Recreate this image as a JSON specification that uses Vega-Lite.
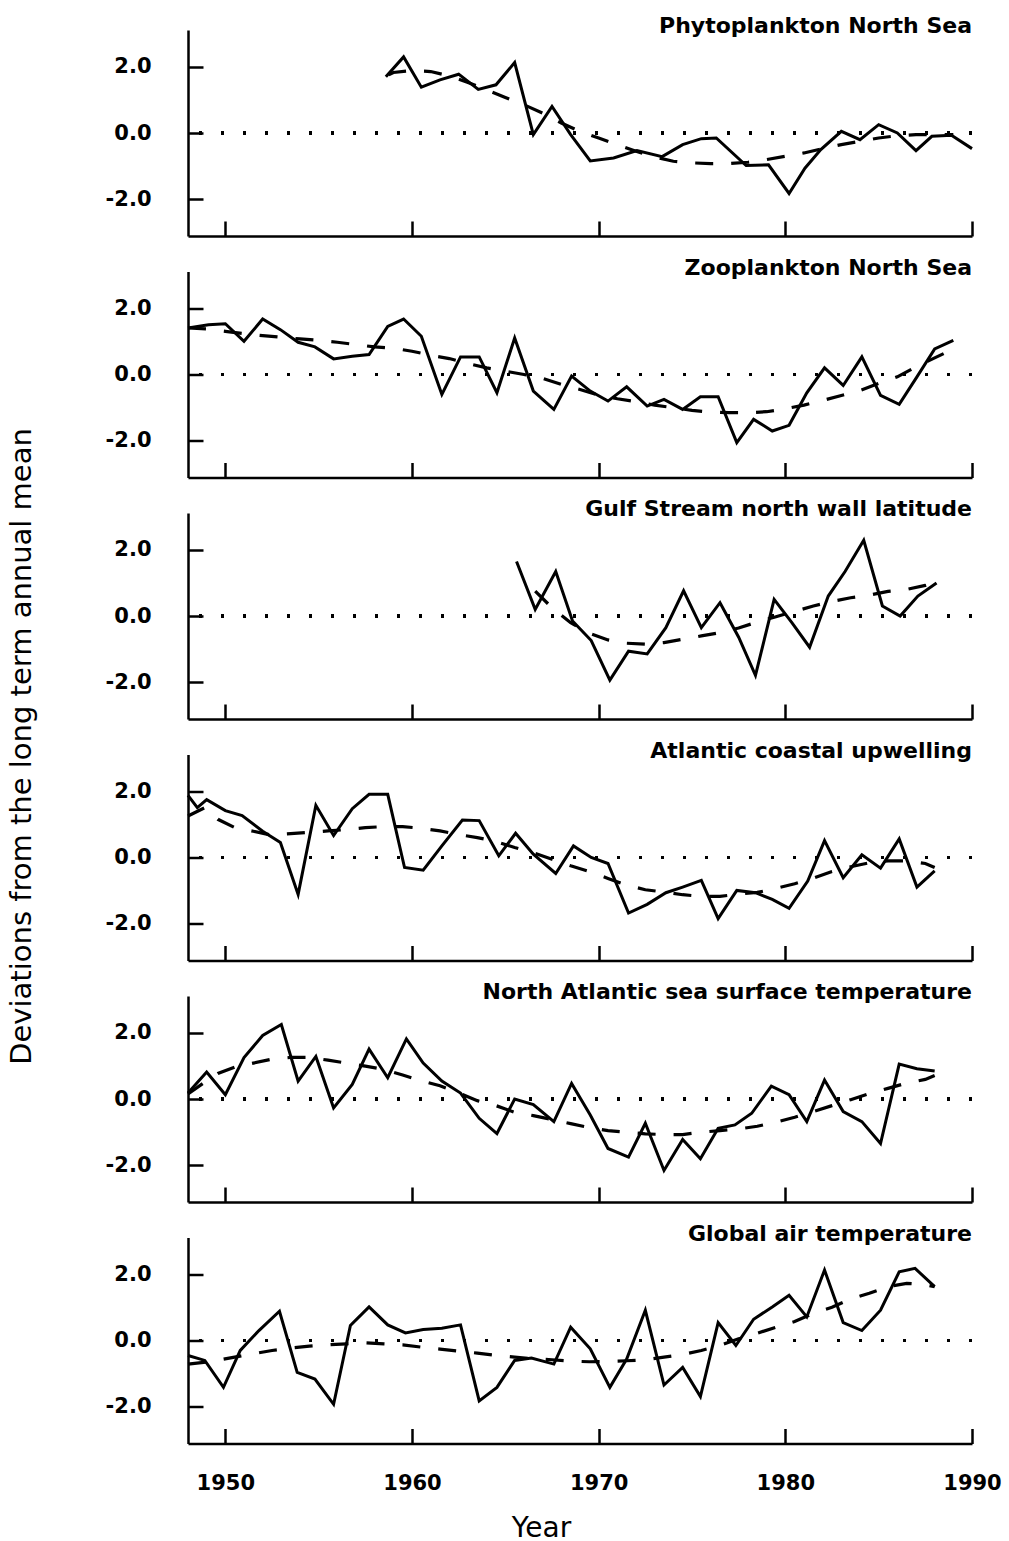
{
  "$schema": "https://vega.github.io/schema/vega-lite/v6.json",
  "background": "white",
  "padding": {"left": 7, "top": 15, "right": 5, "bottom": 5},
  "config": {
    "view": {"stroke": null},
    "font": "DejaVu Sans",
    "axis": {"domainColor": "black", "domainWidth": 2.5, "tickColor": "black", "tickWidth": 2.5, "tickSize": -15, "grid": false,
      "labelColor": "black", "labelFont": "DejaVu Sans", "labelFontWeight": "bold", "labelFontSize": 21,
      "titleColor": "black", "titleFont": "DejaVu Sans", "titleFontWeight": "normal", "titleFontSize": 28, "labelOverlap": false, "labelFlush": false},
    "axisY": {"labelPadding": 52},
    "axisX": {"labelPadding": 44},
    "title": {"anchor": "end", "frame": "group", "baseline": "alphabetic", "offset": -8, "fontSize": 22, "font": "DejaVu Sans", "fontWeight": "bold", "color": "black"}
  },
  "spacing": 35.5,
  "bounds": "flush",
  "datasets": {
    "d": [
      {"p":"A","k":"o","x":1958.6,"y":1.69},{"p":"A","k":"o","x":1959.55,"y":2.29},{"p":"A","k":"o","x":1960.5,"y":1.38},{"p":"A","k":"o","x":1961.5,"y":1.6},{"p":"A","k":"o","x":1962.5,"y":1.77},{"p":"A","k":"o","x":1963.55,"y":1.31},{"p":"A","k":"o","x":1964.5,"y":1.45},{"p":"A","k":"o","x":1965.5,"y":2.12},{"p":"A","k":"o","x":1966.5,"y":-0.05},{"p":"A","k":"o","x":1967.5,"y":0.8},{"p":"A","k":"o","x":1968.5,"y":-0.05},{"p":"A","k":"o","x":1969.55,"y":-0.84},{"p":"A","k":"o","x":1970.8,"y":-0.75},{"p":"A","k":"o","x":1972.05,"y":-0.53},{"p":"A","k":"o","x":1973.4,"y":-0.71},{"p":"A","k":"o","x":1974.5,"y":-0.35},{"p":"A","k":"o","x":1975.5,"y":-0.17},{"p":"A","k":"o","x":1976.3,"y":-0.15},{"p":"A","k":"o","x":1977.9,"y":-0.98},{"p":"A","k":"o","x":1979.1,"y":-0.96},{"p":"A","k":"o","x":1980.2,"y":-1.82},{"p":"A","k":"o","x":1981.05,"y":-1.06},{"p":"A","k":"o","x":1981.9,"y":-0.5},{"p":"A","k":"o","x":1983.0,"y":0.05},{"p":"A","k":"o","x":1984.0,"y":-0.2},{"p":"A","k":"o","x":1985.0,"y":0.25},{"p":"A","k":"o","x":1986.0,"y":0.0},{"p":"A","k":"o","x":1987.0,"y":-0.53},{"p":"A","k":"o","x":1987.85,"y":-0.1},{"p":"A","k":"o","x":1988.9,"y":-0.07},{"p":"A","k":"o","x":1990.0,"y":-0.47},
      {"p":"A","k":"t","x":1958.75,"y":1.75},{"p":"A","k":"t","x":1959,"y":1.82},{"p":"A","k":"t","x":1960,"y":1.88},{"p":"A","k":"t","x":1961,"y":1.85},{"p":"A","k":"t","x":1962,"y":1.72},{"p":"A","k":"t","x":1963,"y":1.52},{"p":"A","k":"t","x":1964,"y":1.3},{"p":"A","k":"t","x":1965,"y":1.07},{"p":"A","k":"t","x":1966,"y":0.85},{"p":"A","k":"t","x":1967,"y":0.6},{"p":"A","k":"t","x":1968,"y":0.3},{"p":"A","k":"t","x":1969,"y":0.05},{"p":"A","k":"t","x":1970,"y":-0.15},{"p":"A","k":"t","x":1971,"y":-0.35},{"p":"A","k":"t","x":1972,"y":-0.55},{"p":"A","k":"t","x":1973,"y":-0.72},{"p":"A","k":"t","x":1974,"y":-0.85},{"p":"A","k":"t","x":1975,"y":-0.9},{"p":"A","k":"t","x":1976,"y":-0.92},{"p":"A","k":"t","x":1977,"y":-0.92},{"p":"A","k":"t","x":1978,"y":-0.88},{"p":"A","k":"t","x":1979,"y":-0.8},{"p":"A","k":"t","x":1980,"y":-0.7},{"p":"A","k":"t","x":1981,"y":-0.6},{"p":"A","k":"t","x":1982,"y":-0.47},{"p":"A","k":"t","x":1983,"y":-0.35},{"p":"A","k":"t","x":1984,"y":-0.25},{"p":"A","k":"t","x":1985,"y":-0.15},{"p":"A","k":"t","x":1986,"y":-0.08},{"p":"A","k":"t","x":1987,"y":-0.05},{"p":"A","k":"t","x":1988,"y":-0.05},{"p":"A","k":"t","x":1989,"y":-0.05},
      {"p":"B","k":"o","x":1948.0,"y":1.4},{"p":"B","k":"o","x":1949.1,"y":1.5},{"p":"B","k":"o","x":1950.0,"y":1.53},{"p":"B","k":"o","x":1951.0,"y":1.0},{"p":"B","k":"o","x":1952.0,"y":1.67},{"p":"B","k":"o","x":1952.95,"y":1.35},{"p":"B","k":"o","x":1953.9,"y":0.97},{"p":"B","k":"o","x":1954.8,"y":0.83},{"p":"B","k":"o","x":1955.8,"y":0.47},{"p":"B","k":"o","x":1956.8,"y":0.55},{"p":"B","k":"o","x":1957.7,"y":0.6},{"p":"B","k":"o","x":1958.7,"y":1.45},{"p":"B","k":"o","x":1959.55,"y":1.67},{"p":"B","k":"o","x":1960.5,"y":1.15},{"p":"B","k":"o","x":1961.6,"y":-0.6},{"p":"B","k":"o","x":1962.6,"y":0.53},{"p":"B","k":"o","x":1963.6,"y":0.53},{"p":"B","k":"o","x":1964.55,"y":-0.55},{"p":"B","k":"o","x":1965.5,"y":1.1},{"p":"B","k":"o","x":1966.5,"y":-0.5},{"p":"B","k":"o","x":1967.6,"y":-1.05},{"p":"B","k":"o","x":1968.55,"y":-0.05},{"p":"B","k":"o","x":1969.55,"y":-0.5},{"p":"B","k":"o","x":1970.5,"y":-0.8},{"p":"B","k":"o","x":1971.5,"y":-0.37},{"p":"B","k":"o","x":1972.6,"y":-0.95},{"p":"B","k":"o","x":1973.5,"y":-0.75},{"p":"B","k":"o","x":1974.5,"y":-1.05},{"p":"B","k":"o","x":1975.45,"y":-0.67},{"p":"B","k":"o","x":1976.4,"y":-0.67},{"p":"B","k":"o","x":1977.4,"y":-2.05},{"p":"B","k":"o","x":1978.3,"y":-1.35},{"p":"B","k":"o","x":1979.3,"y":-1.7},{"p":"B","k":"o","x":1980.2,"y":-1.53},{"p":"B","k":"o","x":1981.15,"y":-0.55},{"p":"B","k":"o","x":1982.1,"y":0.2},{"p":"B","k":"o","x":1983.1,"y":-0.33},{"p":"B","k":"o","x":1984.1,"y":0.53},{"p":"B","k":"o","x":1985.1,"y":-0.63},{"p":"B","k":"o","x":1986.1,"y":-0.9},{"p":"B","k":"o","x":1987.05,"y":-0.07},{"p":"B","k":"o","x":1988.0,"y":0.77},{"p":"B","k":"o","x":1989.0,"y":1.03},
      {"p":"B","k":"t","x":1948,"y":1.4},{"p":"B","k":"t","x":1949,"y":1.37},{"p":"B","k":"t","x":1950,"y":1.3},{"p":"B","k":"t","x":1951,"y":1.23},{"p":"B","k":"t","x":1952,"y":1.17},{"p":"B","k":"t","x":1953,"y":1.12},{"p":"B","k":"t","x":1954,"y":1.07},{"p":"B","k":"t","x":1955,"y":1.03},{"p":"B","k":"t","x":1956,"y":0.97},{"p":"B","k":"t","x":1957,"y":0.9},{"p":"B","k":"t","x":1958,"y":0.83},{"p":"B","k":"t","x":1959,"y":0.79},{"p":"B","k":"t","x":1960,"y":0.7},{"p":"B","k":"t","x":1961,"y":0.58},{"p":"B","k":"t","x":1962,"y":0.48},{"p":"B","k":"t","x":1963,"y":0.33},{"p":"B","k":"t","x":1964,"y":0.2},{"p":"B","k":"t","x":1965,"y":0.1},{"p":"B","k":"t","x":1966,"y":0.0},{"p":"B","k":"t","x":1967,"y":-0.12},{"p":"B","k":"t","x":1968,"y":-0.3},{"p":"B","k":"t","x":1969,"y":-0.45},{"p":"B","k":"t","x":1970,"y":-0.62},{"p":"B","k":"t","x":1971,"y":-0.73},{"p":"B","k":"t","x":1972,"y":-0.82},{"p":"B","k":"t","x":1973,"y":-0.92},{"p":"B","k":"t","x":1974,"y":-1.0},{"p":"B","k":"t","x":1975,"y":-1.08},{"p":"B","k":"t","x":1976,"y":-1.13},{"p":"B","k":"t","x":1977,"y":-1.15},{"p":"B","k":"t","x":1978,"y":-1.15},{"p":"B","k":"t","x":1979,"y":-1.12},{"p":"B","k":"t","x":1980,"y":-1.03},{"p":"B","k":"t","x":1981,"y":-0.92},{"p":"B","k":"t","x":1982,"y":-0.78},{"p":"B","k":"t","x":1983,"y":-0.63},{"p":"B","k":"t","x":1984,"y":-0.48},{"p":"B","k":"t","x":1985,"y":-0.27},{"p":"B","k":"t","x":1986,"y":-0.07},{"p":"B","k":"t","x":1987,"y":0.23},{"p":"B","k":"t","x":1988,"y":0.5},{"p":"B","k":"t","x":1989,"y":0.77},
      {"p":"C","k":"o","x":1965.6,"y":1.64},{"p":"C","k":"o","x":1966.6,"y":0.2},{"p":"C","k":"o","x":1967.7,"y":1.34},{"p":"C","k":"o","x":1968.6,"y":-0.15},{"p":"C","k":"o","x":1969.6,"y":-0.74},{"p":"C","k":"o","x":1970.6,"y":-1.93},{"p":"C","k":"o","x":1971.6,"y":-1.06},{"p":"C","k":"o","x":1972.6,"y":-1.14},{"p":"C","k":"o","x":1973.6,"y":-0.35},{"p":"C","k":"o","x":1974.55,"y":0.76},{"p":"C","k":"o","x":1975.5,"y":-0.35},{"p":"C","k":"o","x":1976.5,"y":0.4},{"p":"C","k":"o","x":1977.5,"y":-0.64},{"p":"C","k":"o","x":1978.4,"y":-1.79},{"p":"C","k":"o","x":1979.4,"y":0.5},{"p":"C","k":"o","x":1980.35,"y":-0.2},{"p":"C","k":"o","x":1981.3,"y":-0.94},{"p":"C","k":"o","x":1982.3,"y":0.6},{"p":"C","k":"o","x":1983.2,"y":1.34},{"p":"C","k":"o","x":1984.2,"y":2.28},{"p":"C","k":"o","x":1985.2,"y":0.3},{"p":"C","k":"o","x":1986.15,"y":0.0},{"p":"C","k":"o","x":1987.1,"y":0.6},{"p":"C","k":"o","x":1988.1,"y":0.99},
      {"p":"C","k":"t","x":1966.6,"y":0.75},{"p":"C","k":"t","x":1967.5,"y":0.25},{"p":"C","k":"t","x":1968.5,"y":-0.2},{"p":"C","k":"t","x":1969.5,"y":-0.52},{"p":"C","k":"t","x":1970.5,"y":-0.72},{"p":"C","k":"t","x":1971.5,"y":-0.82},{"p":"C","k":"t","x":1972.5,"y":-0.85},{"p":"C","k":"t","x":1973.5,"y":-0.8},{"p":"C","k":"t","x":1974.5,"y":-0.7},{"p":"C","k":"t","x":1975.5,"y":-0.6},{"p":"C","k":"t","x":1976.5,"y":-0.5},{"p":"C","k":"t","x":1977.5,"y":-0.36},{"p":"C","k":"t","x":1978.5,"y":-0.18},{"p":"C","k":"t","x":1979.5,"y":-0.02},{"p":"C","k":"t","x":1980.5,"y":0.14},{"p":"C","k":"t","x":1981.5,"y":0.3},{"p":"C","k":"t","x":1982.5,"y":0.44},{"p":"C","k":"t","x":1983.5,"y":0.55},{"p":"C","k":"t","x":1984.5,"y":0.63},{"p":"C","k":"t","x":1985.5,"y":0.74},{"p":"C","k":"t","x":1986.5,"y":0.8},{"p":"C","k":"t","x":1987.5,"y":0.92},{"p":"C","k":"t","x":1988.2,"y":1.04},
      {"p":"D","k":"o","x":1948.0,"y":1.87},{"p":"D","k":"o","x":1948.5,"y":1.5},{"p":"D","k":"o","x":1949.0,"y":1.74},{"p":"D","k":"o","x":1950.0,"y":1.41},{"p":"D","k":"o","x":1950.9,"y":1.26},{"p":"D","k":"o","x":1952.0,"y":0.79},{"p":"D","k":"o","x":1952.95,"y":0.45},{"p":"D","k":"o","x":1953.9,"y":-1.11},{"p":"D","k":"o","x":1954.85,"y":1.57},{"p":"D","k":"o","x":1955.8,"y":0.66},{"p":"D","k":"o","x":1956.8,"y":1.47},{"p":"D","k":"o","x":1957.7,"y":1.9},{"p":"D","k":"o","x":1958.7,"y":1.9},{"p":"D","k":"o","x":1959.6,"y":-0.3},{"p":"D","k":"o","x":1960.6,"y":-0.38},{"p":"D","k":"o","x":1961.6,"y":0.35},{"p":"D","k":"o","x":1962.7,"y":1.13},{"p":"D","k":"o","x":1963.6,"y":1.11},{"p":"D","k":"o","x":1964.65,"y":0.05},{"p":"D","k":"o","x":1965.55,"y":0.73},{"p":"D","k":"o","x":1966.5,"y":0.1},{"p":"D","k":"o","x":1967.7,"y":-0.48},{"p":"D","k":"o","x":1968.65,"y":0.35},{"p":"D","k":"o","x":1969.6,"y":0.0},{"p":"D","k":"o","x":1970.5,"y":-0.18},{"p":"D","k":"o","x":1971.6,"y":-1.67},{"p":"D","k":"o","x":1972.6,"y":-1.41},{"p":"D","k":"o","x":1973.6,"y":-1.06},{"p":"D","k":"o","x":1974.5,"y":-0.89},{"p":"D","k":"o","x":1975.5,"y":-0.69},{"p":"D","k":"o","x":1976.4,"y":-1.84},{"p":"D","k":"o","x":1977.4,"y":-0.99},{"p":"D","k":"o","x":1978.4,"y":-1.06},{"p":"D","k":"o","x":1979.3,"y":-1.26},{"p":"D","k":"o","x":1980.2,"y":-1.53},{"p":"D","k":"o","x":1981.2,"y":-0.71},{"p":"D","k":"o","x":1982.1,"y":0.51},{"p":"D","k":"o","x":1983.1,"y":-0.61},{"p":"D","k":"o","x":1984.1,"y":0.08},{"p":"D","k":"o","x":1985.1,"y":-0.32},{"p":"D","k":"o","x":1986.1,"y":0.56},{"p":"D","k":"o","x":1987.05,"y":-0.89},{"p":"D","k":"o","x":1988.0,"y":-0.4},
      {"p":"D","k":"t","x":1948,"y":1.25},{"p":"D","k":"t","x":1948.9,"y":1.5},{"p":"D","k":"t","x":1949.6,"y":1.15},{"p":"D","k":"t","x":1950.5,"y":0.9},{"p":"D","k":"t","x":1951.5,"y":0.79},{"p":"D","k":"t","x":1952.4,"y":0.68},{"p":"D","k":"t","x":1953.5,"y":0.72},{"p":"D","k":"t","x":1954.5,"y":0.76},{"p":"D","k":"t","x":1955.5,"y":0.8},{"p":"D","k":"t","x":1956.5,"y":0.84},{"p":"D","k":"t","x":1957.5,"y":0.9},{"p":"D","k":"t","x":1958.5,"y":0.93},{"p":"D","k":"t","x":1959.5,"y":0.93},{"p":"D","k":"t","x":1960.5,"y":0.88},{"p":"D","k":"t","x":1961.5,"y":0.8},{"p":"D","k":"t","x":1962.5,"y":0.69},{"p":"D","k":"t","x":1963.5,"y":0.6},{"p":"D","k":"t","x":1964.5,"y":0.48},{"p":"D","k":"t","x":1965.5,"y":0.3},{"p":"D","k":"t","x":1966.5,"y":0.14},{"p":"D","k":"t","x":1967.5,"y":-0.05},{"p":"D","k":"t","x":1968.5,"y":-0.25},{"p":"D","k":"t","x":1969.5,"y":-0.42},{"p":"D","k":"t","x":1970.5,"y":-0.63},{"p":"D","k":"t","x":1971.5,"y":-0.83},{"p":"D","k":"t","x":1972.5,"y":-0.97},{"p":"D","k":"t","x":1973.5,"y":-1.04},{"p":"D","k":"t","x":1974.5,"y":-1.12},{"p":"D","k":"t","x":1975.5,"y":-1.17},{"p":"D","k":"t","x":1976.5,"y":-1.17},{"p":"D","k":"t","x":1977.5,"y":-1.1},{"p":"D","k":"t","x":1978.5,"y":-1.05},{"p":"D","k":"t","x":1979.5,"y":-0.93},{"p":"D","k":"t","x":1980.5,"y":-0.79},{"p":"D","k":"t","x":1981.5,"y":-0.62},{"p":"D","k":"t","x":1982.5,"y":-0.42},{"p":"D","k":"t","x":1983.5,"y":-0.28},{"p":"D","k":"t","x":1984.5,"y":-0.16},{"p":"D","k":"t","x":1985.5,"y":-0.1},{"p":"D","k":"t","x":1986.5,"y":-0.1},{"p":"D","k":"t","x":1987.5,"y":-0.18},{"p":"D","k":"t","x":1988.0,"y":-0.3},
      {"p":"E","k":"o","x":1948.0,"y":0.18},{"p":"E","k":"o","x":1949.0,"y":0.81},{"p":"E","k":"o","x":1950.0,"y":0.13},{"p":"E","k":"o","x":1951.0,"y":1.25},{"p":"E","k":"o","x":1952.0,"y":1.91},{"p":"E","k":"o","x":1953.0,"y":2.24},{"p":"E","k":"o","x":1953.9,"y":0.54},{"p":"E","k":"o","x":1954.85,"y":1.28},{"p":"E","k":"o","x":1955.8,"y":-0.27},{"p":"E","k":"o","x":1956.8,"y":0.44},{"p":"E","k":"o","x":1957.7,"y":1.5},{"p":"E","k":"o","x":1958.7,"y":0.64},{"p":"E","k":"o","x":1959.7,"y":1.81},{"p":"E","k":"o","x":1960.6,"y":1.08},{"p":"E","k":"o","x":1961.6,"y":0.54},{"p":"E","k":"o","x":1962.6,"y":0.18},{"p":"E","k":"o","x":1963.6,"y":-0.58},{"p":"E","k":"o","x":1964.55,"y":-1.04},{"p":"E","k":"o","x":1965.5,"y":0.0},{"p":"E","k":"o","x":1966.5,"y":-0.17},{"p":"E","k":"o","x":1967.6,"y":-0.68},{"p":"E","k":"o","x":1968.55,"y":0.47},{"p":"E","k":"o","x":1969.55,"y":-0.48},{"p":"E","k":"o","x":1970.5,"y":-1.49},{"p":"E","k":"o","x":1971.6,"y":-1.75},{"p":"E","k":"o","x":1972.5,"y":-0.73},{"p":"E","k":"o","x":1973.5,"y":-2.15},{"p":"E","k":"o","x":1974.5,"y":-1.22},{"p":"E","k":"o","x":1975.45,"y":-1.8},{"p":"E","k":"o","x":1976.4,"y":-0.88},{"p":"E","k":"o","x":1977.3,"y":-0.78},{"p":"E","k":"o","x":1978.2,"y":-0.43},{"p":"E","k":"o","x":1979.25,"y":0.39},{"p":"E","k":"o","x":1980.2,"y":0.13},{"p":"E","k":"o","x":1981.15,"y":-0.68},{"p":"E","k":"o","x":1982.1,"y":0.57},{"p":"E","k":"o","x":1983.1,"y":-0.38},{"p":"E","k":"o","x":1984.1,"y":-0.68},{"p":"E","k":"o","x":1985.1,"y":-1.34},{"p":"E","k":"o","x":1986.1,"y":1.05},{"p":"E","k":"o","x":1987.05,"y":0.91},{"p":"E","k":"o","x":1988.0,"y":0.84},
      {"p":"E","k":"t","x":1948,"y":0.15},{"p":"E","k":"t","x":1949,"y":0.55},{"p":"E","k":"t","x":1949.6,"y":0.77},{"p":"E","k":"t","x":1950.5,"y":0.96},{"p":"E","k":"t","x":1951.5,"y":1.08},{"p":"E","k":"t","x":1952.5,"y":1.2},{"p":"E","k":"t","x":1953.5,"y":1.25},{"p":"E","k":"t","x":1954.5,"y":1.25},{"p":"E","k":"t","x":1955.5,"y":1.17},{"p":"E","k":"t","x":1956.5,"y":1.08},{"p":"E","k":"t","x":1957.5,"y":0.99},{"p":"E","k":"t","x":1958.5,"y":0.89},{"p":"E","k":"t","x":1959.5,"y":0.72},{"p":"E","k":"t","x":1960.5,"y":0.55},{"p":"E","k":"t","x":1961.5,"y":0.4},{"p":"E","k":"t","x":1962.5,"y":0.18},{"p":"E","k":"t","x":1963.5,"y":-0.05},{"p":"E","k":"t","x":1964.5,"y":-0.2},{"p":"E","k":"t","x":1965.5,"y":-0.4},{"p":"E","k":"t","x":1966.5,"y":-0.5},{"p":"E","k":"t","x":1967.5,"y":-0.62},{"p":"E","k":"t","x":1968.5,"y":-0.74},{"p":"E","k":"t","x":1969.5,"y":-0.86},{"p":"E","k":"t","x":1970.5,"y":-0.95},{"p":"E","k":"t","x":1971.5,"y":-1.0},{"p":"E","k":"t","x":1972.5,"y":-1.05},{"p":"E","k":"t","x":1973.5,"y":-1.07},{"p":"E","k":"t","x":1974.5,"y":-1.07},{"p":"E","k":"t","x":1975.5,"y":-1.0},{"p":"E","k":"t","x":1976.5,"y":-0.95},{"p":"E","k":"t","x":1977.5,"y":-0.9},{"p":"E","k":"t","x":1978.5,"y":-0.82},{"p":"E","k":"t","x":1979.5,"y":-0.7},{"p":"E","k":"t","x":1980.5,"y":-0.55},{"p":"E","k":"t","x":1981.5,"y":-0.38},{"p":"E","k":"t","x":1982.5,"y":-0.2},{"p":"E","k":"t","x":1983.5,"y":-0.02},{"p":"E","k":"t","x":1984.5,"y":0.16},{"p":"E","k":"t","x":1985.5,"y":0.32},{"p":"E","k":"t","x":1986.5,"y":0.48},{"p":"E","k":"t","x":1987.5,"y":0.59},{"p":"E","k":"t","x":1988.0,"y":0.71},
      {"p":"F","k":"o","x":1948.0,"y":-0.45},{"p":"F","k":"o","x":1948.9,"y":-0.6},{"p":"F","k":"o","x":1949.9,"y":-1.41},{"p":"F","k":"o","x":1950.8,"y":-0.3},{"p":"F","k":"o","x":1951.8,"y":0.3},{"p":"F","k":"o","x":1952.9,"y":0.88},{"p":"F","k":"o","x":1953.85,"y":-0.96},{"p":"F","k":"o","x":1954.8,"y":-1.16},{"p":"F","k":"o","x":1955.8,"y":-1.92},{"p":"F","k":"o","x":1956.7,"y":0.45},{"p":"F","k":"o","x":1957.7,"y":1.01},{"p":"F","k":"o","x":1958.7,"y":0.47},{"p":"F","k":"o","x":1959.65,"y":0.23},{"p":"F","k":"o","x":1960.6,"y":0.33},{"p":"F","k":"o","x":1961.6,"y":0.37},{"p":"F","k":"o","x":1962.6,"y":0.47},{"p":"F","k":"o","x":1963.6,"y":-1.82},{"p":"F","k":"o","x":1964.55,"y":-1.41},{"p":"F","k":"o","x":1965.5,"y":-0.6},{"p":"F","k":"o","x":1966.4,"y":-0.53},{"p":"F","k":"o","x":1967.6,"y":-0.71},{"p":"F","k":"o","x":1968.5,"y":0.4},{"p":"F","k":"o","x":1969.55,"y":-0.25},{"p":"F","k":"o","x":1970.6,"y":-1.41},{"p":"F","k":"o","x":1971.5,"y":-0.56},{"p":"F","k":"o","x":1972.5,"y":0.91},{"p":"F","k":"o","x":1973.5,"y":-1.34},{"p":"F","k":"o","x":1974.5,"y":-0.81},{"p":"F","k":"o","x":1975.45,"y":-1.69},{"p":"F","k":"o","x":1976.4,"y":0.54},{"p":"F","k":"o","x":1977.35,"y":-0.15},{"p":"F","k":"o","x":1978.3,"y":0.64},{"p":"F","k":"o","x":1979.3,"y":1.01},{"p":"F","k":"o","x":1980.2,"y":1.36},{"p":"F","k":"o","x":1981.15,"y":0.71},{"p":"F","k":"o","x":1982.1,"y":2.12},{"p":"F","k":"o","x":1983.1,"y":0.54},{"p":"F","k":"o","x":1984.1,"y":0.3},{"p":"F","k":"o","x":1985.1,"y":0.91},{"p":"F","k":"o","x":1986.1,"y":2.07},{"p":"F","k":"o","x":1986.95,"y":2.17},{"p":"F","k":"o","x":1988.0,"y":1.62},
      {"p":"F","k":"t","x":1948,"y":-0.71},{"p":"F","k":"t","x":1949,"y":-0.65},{"p":"F","k":"t","x":1949.55,"y":-0.6},{"p":"F","k":"t","x":1950.5,"y":-0.5},{"p":"F","k":"t","x":1951.5,"y":-0.4},{"p":"F","k":"t","x":1952.5,"y":-0.3},{"p":"F","k":"t","x":1953.5,"y":-0.23},{"p":"F","k":"t","x":1954.5,"y":-0.17},{"p":"F","k":"t","x":1955.5,"y":-0.13},{"p":"F","k":"t","x":1956.5,"y":-0.1},{"p":"F","k":"t","x":1957.5,"y":-0.07},{"p":"F","k":"t","x":1958.5,"y":-0.1},{"p":"F","k":"t","x":1959.5,"y":-0.13},{"p":"F","k":"t","x":1960.5,"y":-0.2},{"p":"F","k":"t","x":1961.5,"y":-0.26},{"p":"F","k":"t","x":1962.5,"y":-0.32},{"p":"F","k":"t","x":1963.5,"y":-0.38},{"p":"F","k":"t","x":1964.5,"y":-0.45},{"p":"F","k":"t","x":1965.5,"y":-0.5},{"p":"F","k":"t","x":1966.5,"y":-0.55},{"p":"F","k":"t","x":1967.5,"y":-0.58},{"p":"F","k":"t","x":1968.5,"y":-0.62},{"p":"F","k":"t","x":1969.5,"y":-0.64},{"p":"F","k":"t","x":1970.5,"y":-0.63},{"p":"F","k":"t","x":1971.5,"y":-0.61},{"p":"F","k":"t","x":1972.5,"y":-0.58},{"p":"F","k":"t","x":1973.5,"y":-0.5},{"p":"F","k":"t","x":1974.5,"y":-0.42},{"p":"F","k":"t","x":1975.5,"y":-0.3},{"p":"F","k":"t","x":1976.5,"y":-0.15},{"p":"F","k":"t","x":1977.5,"y":0.05},{"p":"F","k":"t","x":1978.5,"y":0.22},{"p":"F","k":"t","x":1979.5,"y":0.4},{"p":"F","k":"t","x":1980.5,"y":0.57},{"p":"F","k":"t","x":1981.5,"y":0.82},{"p":"F","k":"t","x":1982.5,"y":1.0},{"p":"F","k":"t","x":1983.5,"y":1.25},{"p":"F","k":"t","x":1984.5,"y":1.42},{"p":"F","k":"t","x":1985.5,"y":1.62},{"p":"F","k":"t","x":1986.5,"y":1.72},{"p":"F","k":"t","x":1987.5,"y":1.68},{"p":"F","k":"t","x":1988.0,"y":1.62}
    ]
  },
  "data": {"name": "d"},
  "vconcat": [
    {"width": 784, "height": 206, "transform": [{"filter": "datum.p == 'A'"}],
      "title": {"text": "Phytoplankton North Sea"},
      "layer": [
        {"mark": {"type": "rule", "color": "black", "strokeWidth": 2.5, "strokeDash": [3, 19]}, "encoding": {"y": {"datum": 0, "type": "quantitative", "scale": {"domain": [-3.1, 3.1], "nice": false, "zero": false}, "axis": {"values": [-2, 0, 2], "labelExpr": "(datum.value < 0 ? '-' : '') + format(abs(datum.value), '.1f')", "title": "Deviations from the long term annual mean", "titleFontSize": 29, "titleX": -152, "titleY": 716, "titleBaseline": "bottom", "titleAngle": -90, "titleAlign": "center"}}}},
        {"transform": [{"filter": "datum.k == 'o'"}], "mark": {"type": "line", "color": "black", "strokeWidth": 3}, "encoding": {"x": {"field": "x", "type": "quantitative", "scale": {"domain": [1948, 1990], "nice": false, "zero": false}, "axis": {"values": [1950, 1960, 1970, 1980, 1990], "labels": false, "title": null}}, "y": {"field": "y", "type": "quantitative"}}},
        {"transform": [{"filter": "datum.k == 't'"}], "mark": {"type": "line", "color": "black", "strokeWidth": 3.2, "strokeDash": [18, 18]}, "encoding": {"x": {"field": "x", "type": "quantitative"}, "y": {"field": "y", "type": "quantitative"}}}
      ]},
    {"width": 784, "height": 206, "transform": [{"filter": "datum.p == 'B'"}],
      "title": {"text": "Zooplankton North Sea"},
      "layer": [
        {"mark": {"type": "rule", "color": "black", "strokeWidth": 2.5, "strokeDash": [3, 19]}, "encoding": {"y": {"datum": 0, "type": "quantitative", "scale": {"domain": [-3.1, 3.1], "nice": false, "zero": false}, "axis": {"values": [-2, 0, 2], "labelExpr": "(datum.value < 0 ? '-' : '') + format(abs(datum.value), '.1f')", "title": null}}}},
        {"transform": [{"filter": "datum.k == 'o'"}], "mark": {"type": "line", "color": "black", "strokeWidth": 3}, "encoding": {"x": {"field": "x", "type": "quantitative", "scale": {"domain": [1948, 1990], "nice": false, "zero": false}, "axis": {"values": [1950, 1960, 1970, 1980, 1990], "labels": false, "title": null}}, "y": {"field": "y", "type": "quantitative"}}},
        {"transform": [{"filter": "datum.k == 't'"}], "mark": {"type": "line", "color": "black", "strokeWidth": 3.2, "strokeDash": [18, 18]}, "encoding": {"x": {"field": "x", "type": "quantitative"}, "y": {"field": "y", "type": "quantitative"}}}
      ]},
    {"width": 784, "height": 206, "transform": [{"filter": "datum.p == 'C'"}],
      "title": {"text": "Gulf Stream north wall latitude"},
      "layer": [
        {"mark": {"type": "rule", "color": "black", "strokeWidth": 2.5, "strokeDash": [3, 19]}, "encoding": {"y": {"datum": 0, "type": "quantitative", "scale": {"domain": [-3.1, 3.1], "nice": false, "zero": false}, "axis": {"values": [-2, 0, 2], "labelExpr": "(datum.value < 0 ? '-' : '') + format(abs(datum.value), '.1f')", "title": null}}}},
        {"transform": [{"filter": "datum.k == 'o'"}], "mark": {"type": "line", "color": "black", "strokeWidth": 3}, "encoding": {"x": {"field": "x", "type": "quantitative", "scale": {"domain": [1948, 1990], "nice": false, "zero": false}, "axis": {"values": [1950, 1960, 1970, 1980, 1990], "labels": false, "title": null}}, "y": {"field": "y", "type": "quantitative"}}},
        {"transform": [{"filter": "datum.k == 't'"}], "mark": {"type": "line", "color": "black", "strokeWidth": 3.2, "strokeDash": [18, 18]}, "encoding": {"x": {"field": "x", "type": "quantitative"}, "y": {"field": "y", "type": "quantitative"}}}
      ]},
    {"width": 784, "height": 206, "transform": [{"filter": "datum.p == 'D'"}],
      "title": {"text": "Atlantic coastal upwelling"},
      "layer": [
        {"mark": {"type": "rule", "color": "black", "strokeWidth": 2.5, "strokeDash": [3, 19]}, "encoding": {"y": {"datum": 0, "type": "quantitative", "scale": {"domain": [-3.1, 3.1], "nice": false, "zero": false}, "axis": {"values": [-2, 0, 2], "labelExpr": "(datum.value < 0 ? '-' : '') + format(abs(datum.value), '.1f')", "title": null}}}},
        {"transform": [{"filter": "datum.k == 'o'"}], "mark": {"type": "line", "color": "black", "strokeWidth": 3}, "encoding": {"x": {"field": "x", "type": "quantitative", "scale": {"domain": [1948, 1990], "nice": false, "zero": false}, "axis": {"values": [1950, 1960, 1970, 1980, 1990], "labels": false, "title": null}}, "y": {"field": "y", "type": "quantitative"}}},
        {"transform": [{"filter": "datum.k == 't'"}], "mark": {"type": "line", "color": "black", "strokeWidth": 3.2, "strokeDash": [18, 18]}, "encoding": {"x": {"field": "x", "type": "quantitative"}, "y": {"field": "y", "type": "quantitative"}}}
      ]},
    {"width": 784, "height": 206, "transform": [{"filter": "datum.p == 'E'"}],
      "title": {"text": "North Atlantic sea surface temperature"},
      "layer": [
        {"mark": {"type": "rule", "color": "black", "strokeWidth": 2.5, "strokeDash": [3, 19]}, "encoding": {"y": {"datum": 0, "type": "quantitative", "scale": {"domain": [-3.1, 3.1], "nice": false, "zero": false}, "axis": {"values": [-2, 0, 2], "labelExpr": "(datum.value < 0 ? '-' : '') + format(abs(datum.value), '.1f')", "title": null}}}},
        {"transform": [{"filter": "datum.k == 'o'"}], "mark": {"type": "line", "color": "black", "strokeWidth": 3}, "encoding": {"x": {"field": "x", "type": "quantitative", "scale": {"domain": [1948, 1990], "nice": false, "zero": false}, "axis": {"values": [1950, 1960, 1970, 1980, 1990], "labels": false, "title": null}}, "y": {"field": "y", "type": "quantitative"}}},
        {"transform": [{"filter": "datum.k == 't'"}], "mark": {"type": "line", "color": "black", "strokeWidth": 3.2, "strokeDash": [18, 18]}, "encoding": {"x": {"field": "x", "type": "quantitative"}, "y": {"field": "y", "type": "quantitative"}}}
      ]},
    {"width": 784, "height": 206, "transform": [{"filter": "datum.p == 'F'"}],
      "title": {"text": "Global air temperature"},
      "layer": [
        {"mark": {"type": "rule", "color": "black", "strokeWidth": 2.5, "strokeDash": [3, 19]}, "encoding": {"y": {"datum": 0, "type": "quantitative", "scale": {"domain": [-3.1, 3.1], "nice": false, "zero": false}, "axis": {"values": [-2, 0, 2], "labelExpr": "(datum.value < 0 ? '-' : '') + format(abs(datum.value), '.1f')", "title": null}}}},
        {"transform": [{"filter": "datum.k == 'o'"}], "mark": {"type": "line", "color": "black", "strokeWidth": 3}, "encoding": {"x": {"field": "x", "type": "quantitative", "scale": {"domain": [1948, 1990], "nice": false, "zero": false}, "axis": {"values": [1950, 1960, 1970, 1980, 1990], "format": "d", "title": "Year", "titleX": 353, "titlePadding": 21}}, "y": {"field": "y", "type": "quantitative"}}},
        {"transform": [{"filter": "datum.k == 't'"}], "mark": {"type": "line", "color": "black", "strokeWidth": 3.2, "strokeDash": [18, 18]}, "encoding": {"x": {"field": "x", "type": "quantitative"}, "y": {"field": "y", "type": "quantitative"}}}
      ]}
  ]
}
